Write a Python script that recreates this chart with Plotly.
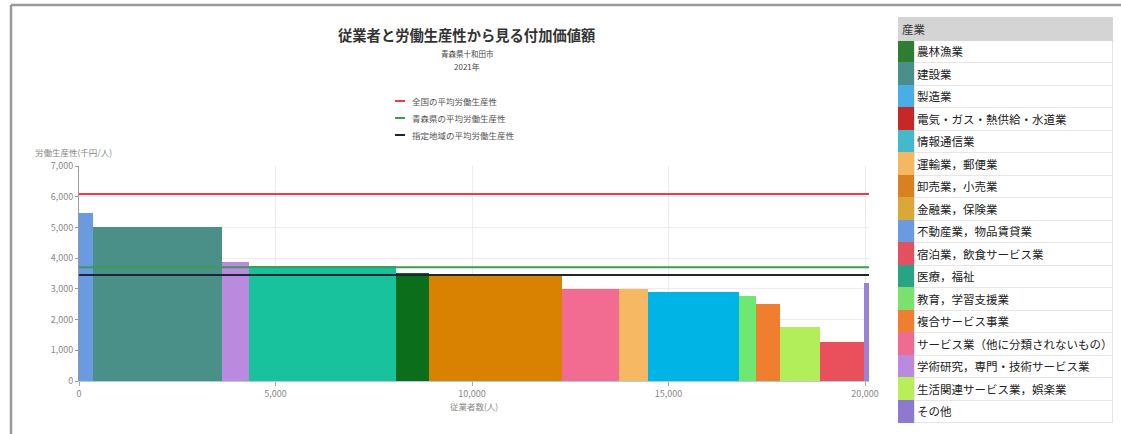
import plotly.graph_objects as go

# legend order (as in the reference table)
industries = [
    "農林漁業", "建設業", "製造業", "電気・ガス・熱供給・水道業", "情報通信業",
    "運輸業，郵便業", "卸売業，小売業", "金融業，保険業", "不動産業，物品賃貸業",
    "宿泊業，飲食サービス業", "医療，福祉", "教育，学習支援業", "複合サービス事業",
    "サービス業（他に分類されないもの）", "学術研究，専門・技術サービス業",
    "生活関連サービス業，娯楽業", "その他",
]
colors = [
    "#0b6e1b", "#4a8f88", "#00b4e6", "#c62828", "#3bbfcf",
    "#f6b862", "#d98100", "#d9a93a", "#6a9ae0",
    "#e9505c", "#17c29c", "#6ee870", "#ef7f2e",
    "#f26b90", "#b98ade", "#b2ee5a", "#9b82d6",
]
legend_colors = [
    "#2e7d32", "#4a8f8a", "#4aaee6", "#c62828", "#45b8cc",
    "#f5b862", "#d98020", "#d9a838", "#6a9ae0",
    "#e35060", "#29a386", "#7be06e", "#ef7f2e",
    "#f06b8f", "#b98ade", "#b8ee5a", "#8f78d0",
]

# bars, in drawing order (left to right)
bar_industries = [
    "不動産業，物品賃貸業", "建設業", "学術研究，専門・技術サービス業", "医療，福祉",
    "農林漁業", "卸売業，小売業", "サービス業（他に分類されないもの）", "運輸業，郵便業",
    "製造業", "教育，学習支援業", "複合サービス事業", "生活関連サービス業，娯楽業",
    "宿泊業，飲食サービス業", "その他",
]
employees = [363, 3287, 668, 3752, 845, 3371, 1455, 737, 2311, 424, 610, 1024, 1117, 136]
productivity = [5480, 5030, 3885, 3745, 3527, 3452, 2996, 2980, 2888, 2768, 2497, 1748, 1280, 3200]

avg_names = ["全国の平均労働生産性", "青森県の平均労働生産性", "指定地域の平均労働生産性"]
avg_values = [6090, 3705, 3452]
avg_colors = ["#e8404a", "#3f9a55", "#1c2733"]

W, H = 1121, 434
ML, MR, MT, MB = 79, 9, 17, 11
PW, PH = W - ML - MR, H - MT - MB


def px(p):
    return (p - ML) / PW


def py(p):
    return (H - MB - p) / PH


FONT = "Noto Sans CJK JP"
total = sum(employees)

fig = go.Figure()

left = 0
for name, w, v in zip(bar_industries, employees, productivity):
    fig.add_trace(go.Bar(
        x=[left], y=[v], width=[w], offset=0, name=name,
        marker=dict(color=colors[industries.index(name)], line=dict(width=0)),
        showlegend=False,
        hovertemplate=name + "<br>従業者数=%{width}<br>労働生産性=%{y}<extra></extra>",
    ))
    left += w

for name, v, c in zip(avg_names, avg_values, avg_colors):
    fig.add_trace(go.Scatter(x=[0, total], y=[v, v], mode="lines", name=name,
                             line=dict(color=c, width=2), showlegend=False))

# table-like legend on the right (names drawn as annotations below)
ROW0, ROWH = 40, 22.5
fig.add_trace(go.Table(
    domain=dict(x=[px(898), 1], y=[0, 1]),
    columnwidth=[16, 198],
    header=dict(values=["", ""], fill_color="#d4d4d4", height=23,
                line=dict(color="#d4d4d4", width=1)),
    cells=dict(values=[[""] * len(industries), [""] * len(industries)],
               fill_color=[legend_colors, ["white"] * len(industries)],
               line=dict(color=[legend_colors, ["#e6e6e6"] * len(industries)], width=1),
               height=ROWH),
))

annotations = [
    dict(text="<b>従業者と労働生産性から見る付加価値額</b>", x=px(467), y=py(34),
         font=dict(size=14.3, color="#333")),
    dict(text="青森県十和田市", x=px(467), y=py(53), font=dict(size=7.5, color="#444")),
    dict(text="2021年", x=px(467), y=py(67), font=dict(size=8, color="#444")),
    dict(text="労働生産性(千円/人)", x=px(33), y=py(152), xanchor="left",
         font=dict(size=8.5, color="#888")),
    dict(text="産業", x=px(900), y=py(29), xanchor="left",
         font=dict(size=11.5, color="#333")),
]
for i, name in enumerate(industries):
    annotations.append(dict(text=name, x=px(915), y=py(ROW0 + ROWH * (i + 0.5)),
                            xanchor="left", font=dict(size=11.5, color="#222")))
shapes = []
for i, (name, c) in enumerate(zip(avg_names, avg_colors)):
    yy = 101 + i * 17
    shapes.append(dict(type="line", xref="paper", yref="paper",
                       x0=px(395), x1=px(405), y0=py(yy), y1=py(yy),
                       line=dict(color=c, width=2)))
    annotations.append(dict(text=name, x=px(410), y=py(yy), xanchor="left",
                            font=dict(size=8.5, color="#555")))
for a in annotations:
    a.update(xref="paper", yref="paper", showarrow=False)
    a.setdefault("xanchor", "center")
    a.setdefault("yanchor", "middle")
    a["font"]["family"] = FONT

# outer frame of the dashboard panel
shapes.append(dict(type="line", xref="paper", yref="paper", x0=px(11), x1=px(W),
                   y0=py(5), y1=py(5), line=dict(color="#999", width=2.5)))
shapes.append(dict(type="line", xref="paper", yref="paper", x0=px(11), x1=px(11),
                   y0=py(5), y1=py(H), line=dict(color="#999", width=2.5)))

fig.update_xaxes(domain=[0, px(869)], range=[0, total], tickvals=[0, 5000, 10000, 15000, 20000],
                 tickformat=",d", showgrid=True, gridcolor="#ececec", zeroline=False,
                 showline=True, linecolor="#b0cde0", ticks="outside", ticklen=4,
                 tickcolor="#aaa", tickfont=dict(family=FONT, size=9, color="#888"),
                 automargin=False,
                 title=dict(text="従業者数(人)", font=dict(family=FONT, size=8.5, color="#888"),
                            standoff=2))
fig.update_yaxes(domain=[py(381), py(166)], range=[0, 7000], dtick=1000, tickformat=",d",
                 showgrid=True, gridcolor="#ececec", zeroline=False,
                 showline=True, linecolor="#999", ticks="outside", ticklen=3,
                 tickcolor="#999", tickfont=dict(family=FONT, size=9, color="#888"),
                 automargin=False)
fig.update_layout(
    width=W, height=H, margin=dict(l=ML, r=MR, t=MT, b=MB, autoexpand=False),
    plot_bgcolor="white", paper_bgcolor="white", barmode="overlay", bargap=0,
    annotations=annotations, shapes=shapes, showlegend=False,
    font=dict(family=FONT),
)

# drop the browser's default 8px body margin so the figure sits at the page corner
fig.write_html("out.html", config={"displayModeBar": False},
               post_script="document.body.style.margin='0';")
